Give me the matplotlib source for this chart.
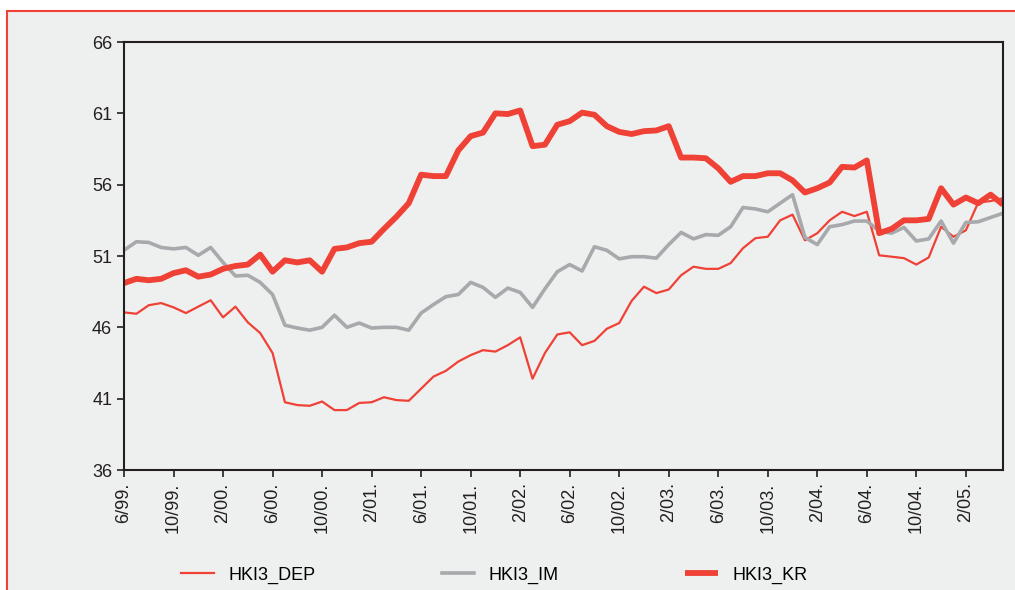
import matplotlib
matplotlib.use("Agg")
import matplotlib.pyplot as plt
from matplotlib.patches import Rectangle
import numpy as np

plt.rcParams["font.family"] = ["Liberation Sans Narrow", "Liberation Sans", "DejaVu Sans"]

# monthly series 6/99 .. 5/05
HKI3_DEP = [
    47.05, 46.95, 47.55, 47.7, 47.4, 47.0, 47.45, 47.9, 46.7, 47.45, 46.35, 45.6,
    44.2, 40.75, 40.55, 40.5, 40.8, 40.2, 40.2, 40.7, 40.75, 41.1, 40.9, 40.85,
    41.7, 42.55, 42.95, 43.6, 44.05, 44.4, 44.3, 44.75, 45.3, 42.4, 44.2, 45.5,
    45.65, 44.75, 45.05, 45.9, 46.3, 47.85, 48.85, 48.4, 48.65, 49.65, 50.25, 50.1,
    50.1, 50.5, 51.55, 52.25, 52.35, 53.5, 53.9, 52.1, 52.6, 53.5, 54.1, 53.8,
    54.1, 51.05, 50.95, 50.85, 50.4, 50.9, 53.05, 52.35, 52.8, 54.75, 54.85, 55.05,
]
HKI3_IM = [
    51.4, 52.0, 51.95, 51.6, 51.5, 51.6, 51.05, 51.6, 50.55, 49.6, 49.65, 49.15,
    48.3, 46.15, 45.95, 45.8, 46.0, 46.85, 46.0, 46.3, 45.95, 46.0, 46.0, 45.8,
    47.0, 47.6, 48.15, 48.3, 49.15, 48.8, 48.1, 48.75, 48.45, 47.4, 48.7, 49.9,
    50.4, 49.95, 51.65, 51.4, 50.8, 50.95, 50.95, 50.85, 51.8, 52.65, 52.2, 52.5,
    52.45, 53.05, 54.4, 54.3, 54.1, 54.7, 55.3, 52.3, 51.8, 53.05, 53.2, 53.45,
    53.45, 52.75, 52.6, 53.0, 52.05, 52.2, 53.45, 51.9, 53.35, 53.4, 53.7, 54.0,
]
HKI3_KR = [
    49.1, 49.4, 49.3, 49.4, 49.8, 50.0, 49.55, 49.7, 50.1, 50.3, 50.4, 51.1,
    49.9, 50.7, 50.55, 50.7, 49.9, 51.5, 51.6, 51.9, 52.0, 52.9, 53.75, 54.7,
    56.7, 56.6, 56.6, 58.4, 59.4, 59.65, 61.0, 60.95, 61.2, 58.7, 58.8, 60.2,
    60.45, 61.05, 60.9, 60.1, 59.7, 59.55, 59.75, 59.8, 60.1, 57.9, 57.9, 57.85,
    57.15, 56.2, 56.6, 56.6, 56.8, 56.8, 56.3, 55.45, 55.75, 56.15, 57.25, 57.2,
    57.7, 52.6, 52.9, 53.5, 53.5, 53.6, 55.75, 54.6, 55.1, 54.7, 55.3, 54.6,
]
START_MONTH, START_YEAR = 6, 1999
Y_TICKS = [36, 41, 46, 51, 56, 61, 66]

RED = "#EF4136"
GREY = "#A7A9AC"
BG = "#EEF0EF"

n = len(HKI3_KR)
x = np.arange(n)
labels = []
for i in x:
    m = (START_MONTH - 1 + i) % 12 + 1
    y = (START_YEAR + (START_MONTH - 1 + i) // 12) % 100
    labels.append(f"{m}/{y:02d}.")

fig = plt.figure(figsize=(10.15, 5.9), dpi=100, facecolor="white")
fig.patches.append(Rectangle((7 / 1015, -0.05), 1.2, 1.05 - 11 / 590,
                             transform=fig.transFigure, facecolor=BG,
                             edgecolor=RED, linewidth=1.5, zorder=-1))

ax = fig.add_axes([124 / 1015, 1 - 470 / 590, 879 / 1015, 428 / 590])
ax.set_facecolor(BG)

ax.plot(x, HKI3_DEP, color=RED, lw=1.6, label="HKI3_DEP")
ax.plot(x, HKI3_IM, color=GREY, lw=2.6, label="HKI3_IM")
ax.plot(x, HKI3_KR, color=RED, lw=4.2, label="HKI3_KR", solid_capstyle="butt")

ax.set_xlim(0, n - 1)
ax.set_ylim(36, 66)
ax.set_yticks(Y_TICKS)
ax.set_xticks(x[::4])
ax.set_xticklabels(labels[::4], rotation=90)
ax.tick_params(axis="both", direction="out", length=5, width=1.2,
               colors="#231F20", labelsize=13)
ax.tick_params(axis="x", pad=4)
for s in ax.spines.values():
    s.set_linewidth(1.5)
    s.set_color("#231F20")

fig.legend(loc="center", bbox_to_anchor=(0.487, 1 - 575 / 590), ncol=3,
           frameon=False, fontsize=13, handlelength=1.8, columnspacing=7.0,
           handletextpad=0.8)

fig.savefig("out.png", dpi=100, facecolor=fig.get_facecolor())
